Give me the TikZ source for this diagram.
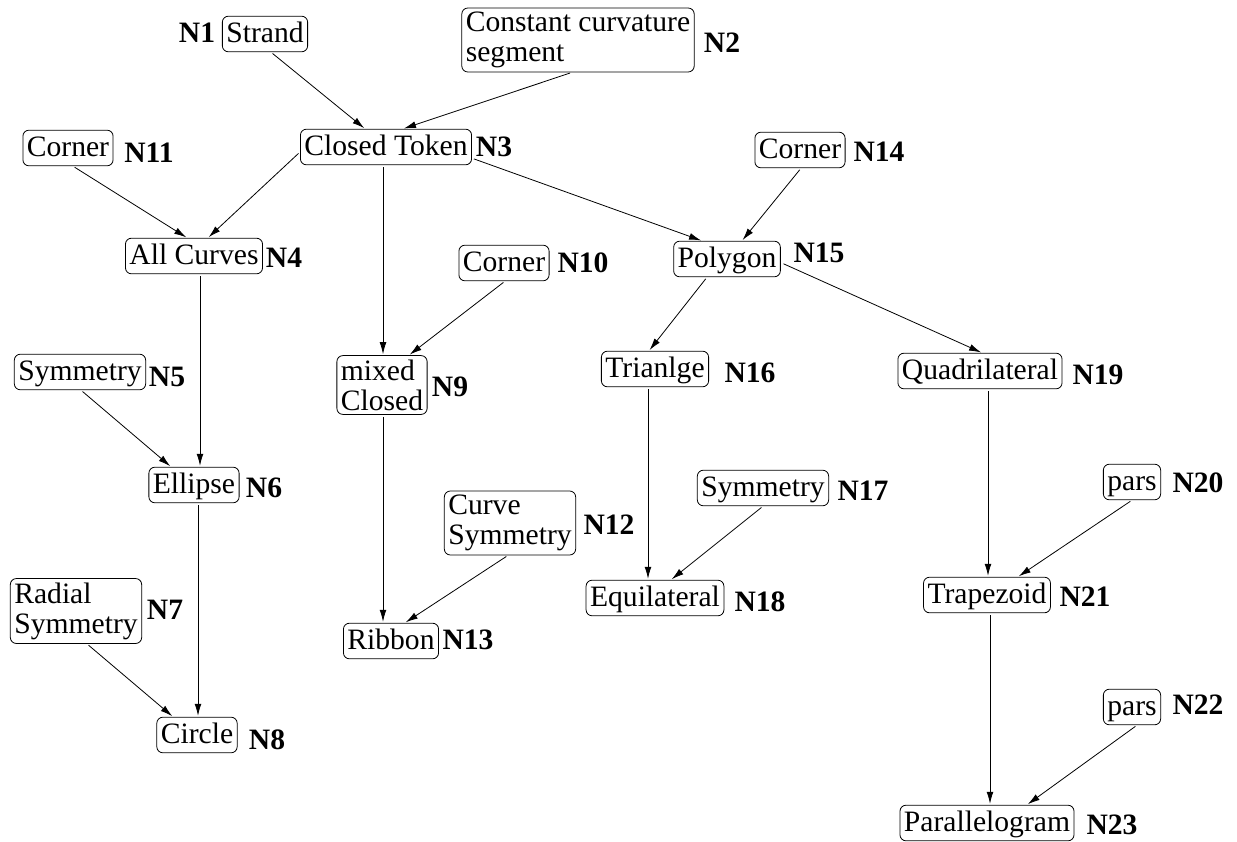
\documentclass[tikz,border=0pt]{standalone}
\usepackage{fontspec}
\setmainfont{Liberation Serif}
\usepackage{tikz}
\usetikzlibrary{arrows.meta,positioning}
\tikzstyle{token} = [rectangle, draw, rounded corners=3pt, inner xsep=2pt, inner ysep=1.8pt, text height=11.4pt, text depth=2.8pt, font=\fontsize{14.8}{15}\selectfont]
\tikzstyle{token2} = [rectangle, draw, rounded corners=3pt, inner xsep=2pt, inner ysep=2pt, align=left, font=\fontsize{14.8}{15}\selectfont]
\tikzstyle{tag} = [font=\fontsize{14.8}{15}\selectfont\bfseries, inner sep=0pt]
\tikzstyle{arrow} = [line width=0.4pt, -{Latex[length=6pt,width=3.4pt]}, shorten <=1pt, shorten >=0.5pt]

\begin{document}
\begin{tikzpicture}[x=0.5pt,y=-0.5pt]
    \useasboundingbox (0,0) rectangle (1237,841);
    % Top level
    \node [token] (n1) at (265,34) {Strand};
    \node [token2] (n2) at (578,40) {Constant curvature\\segment};
    \node [token] (n3) at (386,147) {Closed Token};
    \node [token] (n11) at (68,148) {Corner};
    \node [token] (n14) at (800,150) {Corner};

    % Curves
    \node [token] (n4) at (194,256) {All Curves};
    \node [token] (n5) at (80,372) {Symmetry};
    \node [token] (n6) at (194,485) {Ellipse};
    \node [token2] (n7) at (76,611) {Radial\\Symmetry};
    \node [token] (n8) at (197,735) {Circle};

    % Mixed
    \node [token] (n10) at (504,263) {Corner};
    \node [token2] (n9) at (382,385) {mixed\\Closed};
    \node [token2] (n12) at (510,523) {Curve\\Symmetry};
    \node [token] (n13) at (391,641) {Ribbon};

    % Polygons
    \node [token] (n15) at (727,259) {Polygon};
    \node [token] (n16) at (655,369) {Trianlge};
    \node [token] (n17) at (763,488) {Symmetry};
    \node [token] (n18) at (655,598) {Equilateral};
    \node [token] (n19) at (980,371) {Quadrilateral};
    \node [token] (n20) at (1132,482) {pars};
    \node [token] (n21) at (987,595) {Trapezoid};
    \node [token] (n22) at (1132,707) {pars};
    \node [token] (n23) at (987,823) {Parallelogram};

    % Tags
    \node [tag] (t1) at (197,33) {N1};
    \node [tag] (t2) at (722,43) {N2};
    \node [tag] (t3) at (494,147) {N3};
    \node [tag] (t4) at (284,258) {N4};
    \node [tag] (t5) at (167,377) {N5};
    \node [tag] (t6) at (264,488) {N6};
    \node [tag] (t7) at (165,610) {N7};
    \node [tag] (t8) at (267,740) {N8};
    \node [tag] (t9) at (450,387) {N9};
    \node [tag] (t10) at (583,263) {N10};
    \node [tag] (t11) at (149,153) {N11};
    \node [tag] (t12) at (609,525) {N12};
    \node [tag] (t13) at (468,640) {N13};
    \node [tag] (t14) at (879,152) {N14};
    \node [tag] (t15) at (819,253) {N15};
    \node [tag] (t16) at (750,373) {N16};
    \node [tag] (t17) at (863,491) {N17};
    \node [tag] (t18) at (760,602) {N18};
    \node [tag] (t19) at (1098,375) {N19};
    \node [tag] (t20) at (1198,483) {N20};
    \node [tag] (t21) at (1085,597) {N21};
    \node [tag] (t22) at (1198,705) {N22};
    \node [tag] (t23) at (1112,825) {N23};

    % Connections
    \draw [arrow] ([shift={(6,0)}]n1.south) -- ([shift={(-21,0)}]n3.north);
    \draw [arrow] ([shift={(-6,0)}]n2.south) -- ([shift={(17,0)}]n3.north);
    \draw [arrow] ([shift={(0,5)}]n3.west) -- ([shift={(14,0)}]n4.north);
    \draw [arrow] ([shift={(5,0)}]n11.south) -- ([shift={(-7,0)}]n4.north);
    \draw [arrow] ([shift={(-3,0)}]n3.south) -- ([shift={(1,0)}]n9.north);
    \draw [arrow] ([shift={(0,-7)}]n3.south east) -- ([shift={(-25,0)}]n15.north);
    \draw [arrow] ([shift={(1,0)}]n14.south) -- ([shift={(15,0)}]n15.north);
    \draw [arrow] ([shift={(1,0)}]n10.south) -- ([shift={(27,0)}]n9.north);
    \draw [arrow] ([shift={(6,0)}]n4.south) -- ([shift={(6,0)}]n6.north);
    \draw [arrow] ([shift={(1,0)}]n5.south) -- ([shift={(-23,0)}]n6.north);
    \draw [arrow] ([shift={(4,0)}]n6.south) -- ([shift={(1,0)}]n8.north);
    \draw [arrow] ([shift={(11,0)}]n7.south) -- ([shift={(-24,0)}]n8.north);
    \draw [arrow] ([shift={(1,0)}]n9.south) -- ([shift={(-8,0)}]n13.north);
    \draw [arrow] ([shift={(-2,0)}]n12.south) -- ([shift={(14,0)}]n13.north);
    \draw [arrow] ([shift={(-20,0)}]n15.south) -- ([shift={(-6,0)}]n16.north);
    \draw [arrow] ([shift={(1,4)}]n15.east) -- ([shift={(2,0)}]n19.north);
    \draw [arrow] ([shift={(-7,0)}]n16.south) -- ([shift={(-7,0)}]n18.north);
    \draw [arrow] (n17.south) -- ([shift={(16,0)}]n18.north);
    \draw [arrow] ([shift={(8,0)}]n19.south) -- ([shift={(1,0)}]n21.north);
    \draw [arrow] (n20.south) -- ([shift={(31,0)}]n21.north);
    \draw [arrow] ([shift={(3,0)}]n21.south) -- ([shift={(3,0)}]n23.north);
    \draw [arrow] ([shift={(5,0)}]n22.south) -- ([shift={(40,0)}]n23.north);
\end{tikzpicture}
\end{document}
